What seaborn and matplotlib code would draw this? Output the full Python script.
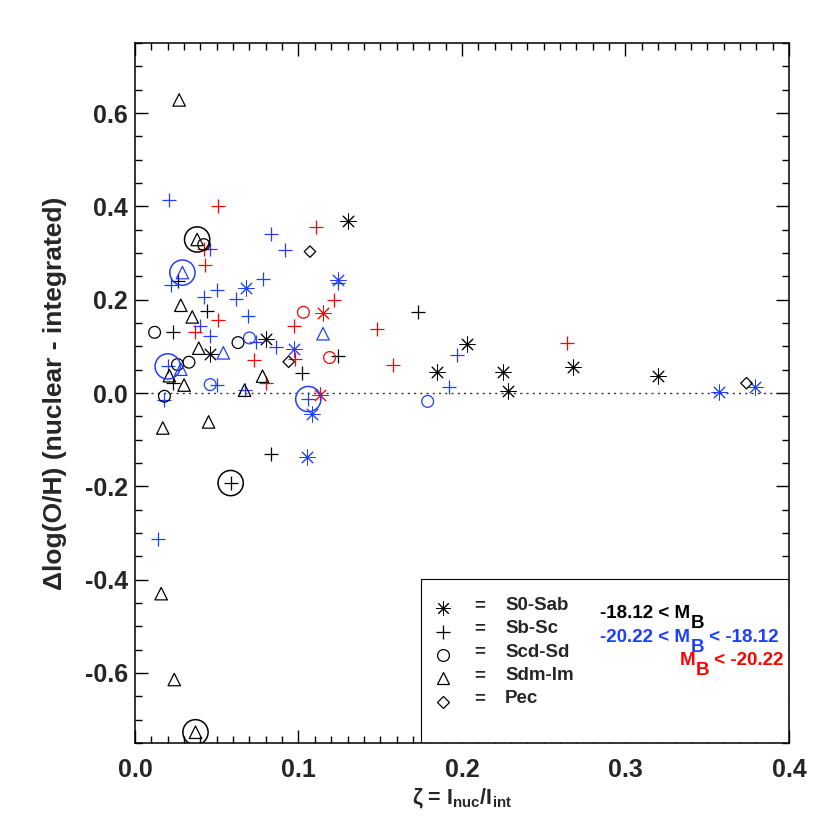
import matplotlib
matplotlib.use("Agg")
import matplotlib.pyplot as plt
import seaborn as sns
import pandas as pd
from matplotlib.patches import Rectangle
from matplotlib.ticker import MultipleLocator, FormatStrFormatter

# ---------------- data ----------------
# S0-Sab (asterisks)
s0_black_x = [0.130, 0.046, 0.080, 0.185, 0.203, 0.225, 0.228, 0.268, 0.320]
s0_black_y = [0.369, 0.083, 0.116, 0.046, 0.106, 0.046, 0.005, 0.056, 0.037]
s0_blue_x = [0.068, 0.124, 0.097, 0.108, 0.105, 0.357, 0.379]
s0_blue_y = [0.225, 0.243, 0.094, -0.045, -0.137, 0.003, 0.012]
s0_red_x = [0.115, 0.113]
s0_red_y = [0.171, -0.005]

# Sb-Sc (plus)
sb_black_x = [0.026, 0.044, 0.023, 0.023, 0.102, 0.124, 0.173, 0.083, 0.0585]
sb_black_y = [0.239, 0.175, 0.130, 0.021, 0.043, 0.080, 0.174, -0.130, -0.193]
sb_blue_x = [0.021, 0.046, 0.083, 0.092, 0.078, 0.022, 0.042, 0.050, 0.062, 0.069,
             0.040, 0.046, 0.074, 0.086, 0.020, 0.050, 0.067, 0.018, 0.124, 0.106,
             0.197, 0.192, 0.014]
sb_blue_y = [0.414, 0.309, 0.341, 0.307, 0.245, 0.232, 0.206, 0.221, 0.202, 0.164,
             0.143, 0.123, 0.109, 0.099, 0.057, 0.018, 0.006, -0.014, 0.236, -0.013,
             0.081, 0.012, -0.312]
sb_red_x = [0.051, 0.042, 0.043, 0.111, 0.051, 0.037, 0.073, 0.098, 0.080, 0.097,
            0.122, 0.148, 0.158, 0.264]
sb_red_y = [0.400, 0.309, 0.275, 0.355, 0.156, 0.130, 0.071, 0.073, 0.021, 0.143,
            0.200, 0.138, 0.059, 0.107]

# Scd-Sd (circles)
scd_black_x = [0.042, 0.012, 0.063, 0.026, 0.033, 0.018]
scd_black_y = [0.318, 0.130, 0.108, 0.061, 0.066, -0.007]
scd_blue_x = [0.070, 0.046, 0.179]
scd_blue_y = [0.118, 0.018, -0.018]
scd_red_x = [0.103, 0.119]
scd_red_y = [0.173, 0.076]

# Sdm-Im (triangles)
sdm_black_x = [0.027, 0.038, 0.028, 0.035, 0.039, 0.021, 0.030, 0.067, 0.078, 0.017,
               0.045, 0.016, 0.024, 0.037]
sdm_black_y = [0.628, 0.329, 0.188, 0.163, 0.096, 0.037, 0.017, 0.006, 0.036, -0.075,
               -0.062, -0.430, -0.614, -0.727]
sdm_blue_x = [0.029, 0.054, 0.028, 0.115]
sdm_blue_y = [0.258, 0.086, 0.051, 0.127]

# Pec (diamonds)
pec_black_x = [0.107, 0.094, 0.374]
pec_black_y = [0.303, 0.067, 0.021]

# highlighted objects (large circles)
big_black_x = [0.038, 0.0585, 0.037]
big_black_y = [0.329, -0.193, -0.727]
big_blue_x = [0.029, 0.020, 0.106]
big_blue_y = [0.258, 0.057, -0.013]

type_labels = ["S0-Sab", "Sb-Sc", "Scd-Sd", "Sdm-Im", "Pec"]
mag_labels = ["-18.12 < M", "-20.22 < M", "M"]

# ---------------- style ----------------
BLACK = "#000000"
BLUE = "#1f3fff"
RED = "#ff0000"
COLORS = {"black": BLACK, "blue": BLUE, "red": RED}

sns.set_theme(style="ticks")
plt.rcParams["font.family"] = ["Liberation Sans", "DejaVu Sans"]
plt.rcParams["font.weight"] = "bold"
plt.rcParams["axes.labelweight"] = "bold"
plt.rcParams["axes.unicode_minus"] = False
plt.rcParams["mathtext.fontset"] = "custom"
plt.rcParams["mathtext.rm"] = "Liberation Sans:bold"
plt.rcParams["mathtext.it"] = "Liberation Sans:bold"
plt.rcParams["mathtext.bf"] = "Liberation Sans:bold"

ASTER = (8, 2, 0)
MARKERS = {"S0-Sab": ASTER, "Sb-Sc": "+", "Scd-Sd": "o", "Sdm-Im": "^", "Pec": "D"}
SIZES = {"S0-Sab": 120, "Sb-Sc": 95, "Scd-Sd": 72, "Sdm-Im": 80, "Pec": 34}
LINE_MARKERS = {"S0-Sab", "Sb-Sc"}

rows = []
def add(t, c, xs, ys):
    for a, b in zip(xs, ys):
        rows.append({"zeta": a, "dlog": b, "type": t, "col": c})

add("S0-Sab", "black", s0_black_x, s0_black_y)
add("S0-Sab", "blue", s0_blue_x, s0_blue_y)
add("S0-Sab", "red", s0_red_x, s0_red_y)
add("Sb-Sc", "black", sb_black_x, sb_black_y)
add("Sb-Sc", "blue", sb_blue_x, sb_blue_y)
add("Sb-Sc", "red", sb_red_x, sb_red_y)
add("Scd-Sd", "black", scd_black_x, scd_black_y)
add("Scd-Sd", "blue", scd_blue_x, scd_blue_y)
add("Scd-Sd", "red", scd_red_x, scd_red_y)
add("Sdm-Im", "black", sdm_black_x, sdm_black_y)
add("Sdm-Im", "blue", sdm_blue_x, sdm_blue_y)
add("Pec", "black", pec_black_x, pec_black_y)
add("big", "black", big_black_x, big_black_y)
add("big", "blue", big_blue_x, big_blue_y)
df = pd.DataFrame(rows)

fig = plt.figure(figsize=(8.3, 8.3), dpi=100)
ax = fig.add_axes([0.16265, 0.10482, 0.78795, 0.84337])

for (t, c), sub in df.groupby(["type", "col"], sort=False):
    col = COLORS[c]
    if t == "big":
        sns.scatterplot(data=sub, x="zeta", y="dlog", marker="o", s=330,
                        color=col, facecolor="none", edgecolor=col,
                        linewidth=1.1, ax=ax, legend=False, zorder=3)
    elif t in LINE_MARKERS:
        lw = 0.7 if t == "S0-Sab" else 0.9
        sns.scatterplot(data=sub, x="zeta", y="dlog", marker=MARKERS[t], s=SIZES[t],
                        color=col, linewidth=lw, ax=ax, legend=False, zorder=3)
    else:
        sns.scatterplot(data=sub, x="zeta", y="dlog", marker=MARKERS[t], s=SIZES[t],
                        color=col, facecolor="none", edgecolor=col,
                        linewidth=0.9, ax=ax, legend=False, zorder=3)

# zero line
ax.plot([0.01, 0.4], [0, 0], linestyle=(0, (1.5, 3)), color="#333333", lw=1.0, zorder=1)

ax.set_xlim(0, 0.4)
ax.set_ylim(-0.75, 0.75)
ax.xaxis.set_major_locator(MultipleLocator(0.1))
ax.xaxis.set_minor_locator(MultipleLocator(0.01))
ax.yaxis.set_major_locator(MultipleLocator(0.2))
ax.yaxis.set_minor_locator(MultipleLocator(0.05))
ax.xaxis.set_major_formatter(FormatStrFormatter("%.1f"))
ax.yaxis.set_major_formatter(FormatStrFormatter("%.1f"))
ax.tick_params(which="both", direction="in", top=True, right=True, color="black", width=1.0)
ax.tick_params(which="major", length=9.5, labelsize=18)
ax.tick_params(axis="x", which="major", pad=11)
ax.tick_params(axis="y", which="major", pad=5)
ax.tick_params(which="minor", length=5)
for lab in ax.get_xticklabels() + ax.get_yticklabels():
    lab.set_fontweight("bold")
for sp in ax.spines.values():
    sp.set_linewidth(1.1)
    sp.set_color("black")

ax.set_xlabel("ζ = I$_{nuc}$/I$_{int}$", fontsize=15.5, fontweight="bold")
ax.xaxis.set_label_coords(0.5, -0.063)
ax.set_ylabel("Δlog(O/H) (nuclear - integrated)", fontsize=19, fontweight="bold")
ax.yaxis.set_label_coords(-0.104, 0.5)

# ---------------- legend box ----------------
ax.add_patch(Rectangle((0.4373, 0.0), 0.5627, 0.2343, transform=ax.transAxes,
                       facecolor="white", edgecolor="black", lw=0.8, zorder=2))
leg_x, eq_x, txt_x = 0.4705, 0.527, 0.566
sym_y0, txt_y0, dy = 0.1924, 0.190, 0.03336
LFS = 13.5
for i, t in enumerate(type_labels):
    m = MARKERS[t]
    ms = {"S0-Sab": 10.5, "Sb-Sc": 9.6, "Scd-Sd": 8.5, "Sdm-Im": 9.0, "Pec": 5.8}[t]
    mew = 0.7 if t == "S0-Sab" else 0.9
    ax.plot([leg_x], [sym_y0 - i * dy], marker=m, ms=ms, mfc="none", mec="black",
            mew=mew, color="black", transform=ax.transAxes, zorder=5, clip_on=False)
    ax.text(eq_x, txt_y0 - i * dy, "=", transform=ax.transAxes, ha="center",
            va="baseline", fontsize=LFS, fontweight="bold", zorder=5)
    ax.text(txt_x, txt_y0 - i * dy, t, transform=ax.transAxes, ha="left",
            va="baseline", fontsize=LFS, fontweight="bold", zorder=5)

FS = 13.5
def mag_line(x, y, pre, post, color):
    t1 = ax.text(x, y, pre, transform=ax.transAxes, ha="left", va="baseline",
                 fontsize=FS, fontweight="bold", color=color, zorder=5)
    b = ax.annotate("B", xy=(1, 0), xycoords=t1, xytext=(0.3, -4.3),
                    textcoords="offset points", ha="left", va="baseline",
                    fontsize=FS, fontweight="bold", color=color, zorder=5)
    if post:
        ax.annotate(post, xy=(1, 0), xycoords=b, xytext=(0, 10.1),
                    textcoords="offset points", ha="left", va="baseline",
                    fontsize=FS, fontweight="bold", color=color, zorder=5)

mag_line(0.711, 0.178, mag_labels[0], "", BLACK)
mag_line(0.711, 0.1447, mag_labels[1], " < -18.12", BLUE)
mag_line(0.8323, 0.1114, mag_labels[2], " < -20.22", RED)

fig.savefig("out.png", dpi=100, facecolor="white")
